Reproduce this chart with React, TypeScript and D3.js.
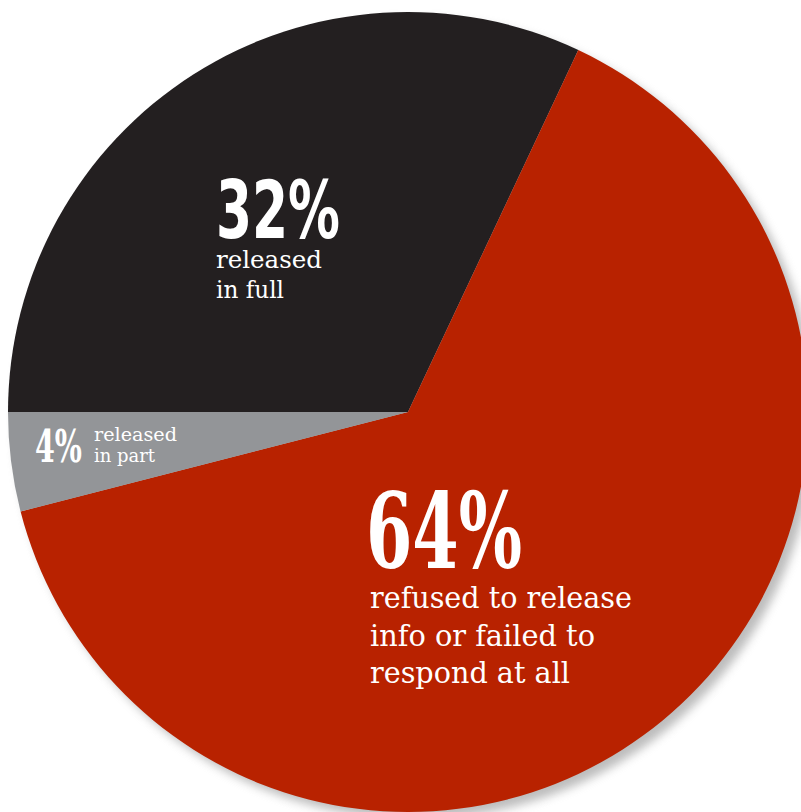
import React from "react";
import * as d3 from "d3";

const categories = ["released in full", "refused to release info or failed to respond at all", "released in part"];
const values = [32, 64, 4];
const colors = ["#231f20", "#b82200", "#939598"];
const pctLabels = ["32%", "64%", "4%"];
const subLabels = [["released", "in full"], ["refused to release", "info or failed to", "respond at all"], ["released", "in part"]];

const W = 801, H = 812;
const cx = 408, cy = 412, R = 400;

export default function App() {
  const pie = d3.pie<number>().sort(null).startAngle(-Math.PI / 2).endAngle(1.5 * Math.PI);
  const arcs = pie(values);
  const arc = d3.arc<d3.PieArcDatum<number>>().innerRadius(0).outerRadius(R);
  const slab = "'DejaVu Serif', serif";
  const fit = { lengthAdjust: "spacingAndGlyphs" } as any;
  return (
    <svg width={W} height={H} style={{ position: "absolute", left: 0, top: 0, background: "#fff" }}>
      <defs>
        <filter id="sh" x="-10%" y="-10%" width="130%" height="130%">
          <feGaussianBlur stdDeviation="5" />
        </filter>
      </defs>
      <circle cx={cx + 7} cy={cy + 7} r={R} fill="#9a9a9a" opacity={0.65} filter="url(#sh)" />
      <g transform={`translate(${cx},${cy})`}>
        {arcs.map((a, i) => (
          <path key={categories[i]} d={arc(a) || ""} fill={colors[i]} />
        ))}
      </g>
      {/* 32% */}
      <text x={216} y={238} fill="#fff" fontFamily="'DejaVu Sans Condensed', 'DejaVu Sans', sans-serif" fontWeight="bold" fontSize={80} textLength={124} {...fit}>{pctLabels[0]}</text>
      {subLabels[0].map((t, j) => (
        <text key={t} x={216} y={268 + j * 30} fill="#fff" fontFamily={slab} fontSize={25} textLength={[106, 68][j]} {...fit}>{t}</text>
      ))}
      {/* 64% */}
      <text x={366} y={568} fill="#fff" fontFamily="'DejaVu Serif Condensed', 'DejaVu Serif', serif" fontWeight="bold" fontSize={104} textLength={156} {...fit}>{pctLabels[1]}</text>
      {subLabels[1].map((t, j) => (
        <text key={t} x={370} y={608 + j * 37.5} fill="#fff" fontFamily={slab} fontSize={30} textLength={[262, 225, 200][j]} {...fit}>{t}</text>
      ))}
      {/* 4% */}
      <text x={35} y={462} fill="#fff" fontFamily="'DejaVu Serif Condensed', 'DejaVu Serif', serif" fontWeight="bold" fontSize={44} textLength={47} {...fit}>{pctLabels[2]}</text>
      {subLabels[2].map((t, j) => (
        <text key={t} x={94} y={441 + j * 21} fill="#fff" fontFamily={slab} fontSize={18} textLength={[83, 61][j]} {...fit}>{t}</text>
      ))}
    </svg>
  );
}
